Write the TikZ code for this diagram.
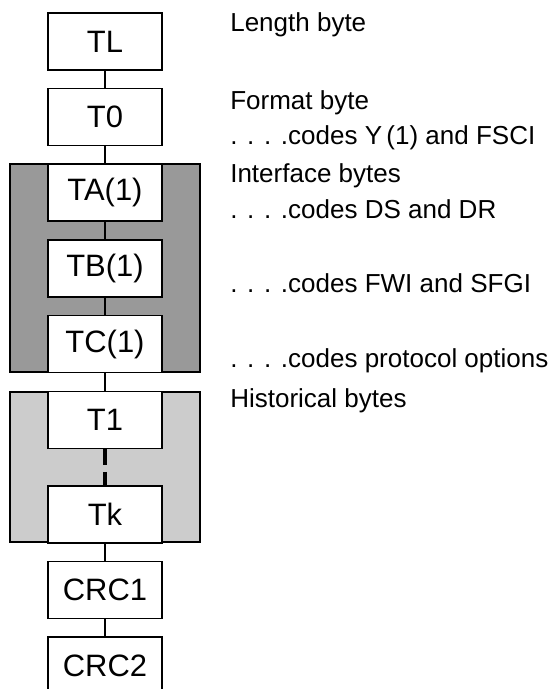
\documentclass[tikz,border=0pt]{standalone}
\usepackage{fontspec}
\setmainfont{Liberation Sans}

\begin{document}
\begin{tikzpicture}[x=0.025cm, y=-0.025cm,
    bytebox/.style={draw, line width=1.1pt, fill=white, inner sep=0pt,
      minimum width=2.85cm, minimum height=1.425cm,
      font=\fontsize{22}{26}\selectfont},
    note/.style={anchor=base west, inner sep=0pt,
      font=\fontsize{18.5}{22}\selectfont},
    link/.style={line width=1.1pt}]
  \useasboundingbox (0,0) rectangle (550,689);

  % Interface and historical groups
  \draw[line width=1.1pt, fill=black!40] (10,164) rectangle (200,372);
  \draw[line width=1.1pt, fill=black!20] (10,392) rectangle (200,542);

  % Bytes
  \node[bytebox] (tl)   at (105,41.5)  {TL};
  \node[bytebox] (t0)   at (105,117)   {T0};
  \node[bytebox] (ta)   at (105,192.5) {TA(1)};
  \node[bytebox] (tb)   at (105,268.5) {TB(1)};
  \node[bytebox] (tc)   at (105,344)   {TC(1)};
  \node[bytebox] (t1)   at (105,420)   {T1};
  \node[bytebox] (tk)   at (105,514.5) {Tk};
  \node[bytebox] (crc1) at (105,590)   {CRC1};
  \node[bytebox] (crc2) at (105,665.5) {CRC2};

  \draw[link] (tl) -- (t0);
  \draw[link] (t0) -- (ta);
  \draw[link] (ta) -- (tb);
  \draw[link] (tb) -- (tc);
  \draw[link] (tc) -- (t1);
  \draw[line width=2.4pt, dash pattern=on 11pt off 5pt] (t1) -- (tk);
  \draw[link] (tk) -- (crc1);
  \draw[link] (crc1) -- (crc2);

  % Notes
  \node[note] (lenlbl)  at (230,32)  {Length byte};
  \node[note] (fmtlbl)  at (230,110) {Format byte};
  \node[note] (fmtcode) at (230,145) {. . . .codes Y\,(1) and FSCI};
  \node[note] (ifclbl)  at (230,183) {Interface bytes};
  \node[note] (tacode)  at (230,218) {. . . .codes DS and DR};
  \node[note] (tbcode)  at (230,292) {. . . .codes FWI and SFGI};
  \node[note] (tccode)  at (230,367) {. . . .codes protocol options};
  \node[note] (histlbl) at (230,407) {Historical bytes};
\end{tikzpicture}
\end{document}
